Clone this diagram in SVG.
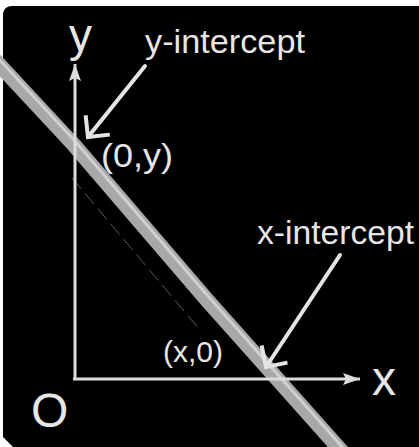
<svg xmlns="http://www.w3.org/2000/svg" width="419" height="447" viewBox="0 0 419 447">
  <style>
    .lbl { font-family: "Liberation Sans", Arial, sans-serif; fill: #e6e6e6; }
    .axis { stroke: #dcdcdc; stroke-width: 3; fill: none; }
    .pointer { stroke: #e4e4e4; stroke-width: 4; fill: none; stroke-linecap: round; }
  </style>
  <defs>
    <marker id="chev" viewBox="-20 -20 40 40" refX="0" refY="0" markerWidth="40" markerHeight="40" markerUnits="userSpaceOnUse" orient="auto">
      <path d="M -15.5 -15.5 L 0 0 L -15.5 15.5" stroke="#e4e4e4" stroke-width="4" fill="none" stroke-linejoin="miter"/>
    </marker>
    <marker id="axhead" viewBox="-20 -10 22 20" refX="0" refY="0" markerWidth="22" markerHeight="20" markerUnits="userSpaceOnUse" orient="auto">
      <path d="M 0 0 L -17 -6 L -14 0 L -17 6 Z" fill="#dcdcdc"/>
    </marker>
  </defs>

  <!-- background -->
  <rect x="0" y="0" width="419" height="447" fill="#ffffff"/>
  <path d="M 3 14 Q 4 6 12 6 L 419 6 L 419 447 L 13 447 L 3 437 Z" fill="#000000"/>

  <!-- line of the graph (grey band) -->
  <g id="graph-line">
    <path d="M 72 178 L 200 330" stroke="#5a5a5a" stroke-width="1" stroke-dasharray="14 6" fill="none"/>
    <path d="M -5 60 L 74 145 L 207 300 L 345 455" stroke="#a8a8a8" stroke-width="15" fill="none" stroke-linejoin="round"/>
    <path d="M -5 55 L 74 140 L 207 295 L 345 450" stroke="#d0d0d0" stroke-width="3" fill="none" stroke-linejoin="round"/>
  </g>

  <g id="connectors">
    <line class="axis" x1="75" y1="380" x2="75" y2="64" marker-end="url(#axhead)"/>
    <line class="axis" x1="73" y1="379" x2="360" y2="379" marker-end="url(#axhead)"/>
    <line class="pointer" x1="145" y1="66" x2="88" y2="137" marker-end="url(#chev)"/>
    <line class="pointer" x1="340" y1="255" x2="266" y2="367" marker-end="url(#chev)"/>
  </g>

  <g id="label-y"><text class="lbl" x="69" y="51" font-size="46">y</text></g>
  <g id="label-y-intercept"><text class="lbl" x="145" y="53" font-size="33" textLength="160" lengthAdjust="spacingAndGlyphs">y-intercept</text></g>
  <g id="label-0y"><text class="lbl" x="101" y="167" font-size="34" textLength="72" lengthAdjust="spacingAndGlyphs">(0,y)</text></g>
  <g id="label-x-intercept"><text class="lbl" x="257" y="244" font-size="33" textLength="157" lengthAdjust="spacingAndGlyphs">x-intercept</text></g>
  <g id="label-x0"><text class="lbl" x="163" y="362" font-size="30">(x,0)</text></g>
  <g id="label-x"><text class="lbl" x="372" y="395" font-size="48">x</text></g>
  <g id="label-O"><text class="lbl" x="31" y="427" font-size="48">O</text></g>
</svg>
